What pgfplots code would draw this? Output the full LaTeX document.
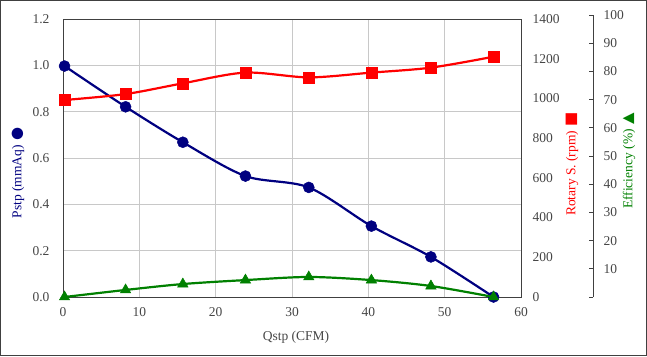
\documentclass[border=0pt]{standalone}
\usepackage{fontspec}
\setmainfont{Liberation Serif}
\newfontfamily\dejavu{DejaVu Sans}
\usepackage{pgfplots}
\pgfplotsset{compat=1.18}
\definecolor{navyc}{RGB}{0,0,128}
\definecolor{redc}{RGB}{255,0,0}
\definecolor{greenc}{RGB}{0,128,0}
\definecolor{axc}{RGB}{64,64,64}
\definecolor{tickc}{RGB}{70,70,70}
\definecolor{gridc}{RGB}{200,200,200}
\newcommand{\fs}{\fontsize{13.5}{15}\selectfont}
\begin{document}
\begin{tikzpicture}[x=1pt,y=1pt]
\useasboundingbox (0,0) rectangle (647,356);
\draw[line width=1pt, color=axc] (0.5,0.5) rectangle (646.5,355.5);
\pgfplotsset{
  base/.style={
    at={(63pt,59pt)}, anchor=south west, scale only axis,
    width=458pt, height=278pt,
    xmin=0, xmax=60,
    font=\fs,
    /pgf/number format/assume math mode=true,
    /pgf/number format/1000 sep={},
    tick label style={color=tickc, font=\fs},
    major tick length=0pt,
    axis line style={color=axc, line width=0.8pt},
  }
}
% Pstp (left axis)
\begin{axis}[base,
  ymin=0, ymax=1.2,
  ytick={0,0.2,...,1.2},
  yticklabel style={/pgf/number format/fixed, /pgf/number format/fixed zerofill, /pgf/number format/precision=1, xshift=-10pt},
  xtick={0,10,...,60},
  xticklabel style={yshift=-7pt},
  xtick pos=bottom, ytick pos=left,
  grid=major,
  major grid style={color=gridc, line width=0.8pt},
]
\addplot[navyc, line width=2.2pt, smooth, mark=*, mark size=5.5pt, mark options={fill=navyc, draw=navyc, line width=0.5pt}]
  coordinates {(0.2,0.997) (8.2,0.821) (15.7,0.668) (23.9,0.522) (32.2,0.473) (40.4,0.306) (48.2,0.173) (56.4,0.0)};
\end{axis}
% Rotary speed (right axis)
\begin{axis}[base,
  ymin=0, ymax=1400,
  ytick={0,200,...,1400},
  axis y line*=right,
  hide x axis,
  yticklabel style={xshift=8pt},
]
\addplot[redc, line width=2.2pt, smooth, mark=square*, mark size=5.5pt, mark options={fill=redc, draw=redc, line width=0.5pt}]
  coordinates {(0.2,992) (8.2,1022) (15.7,1076) (23.9,1130) (32.2,1106) (40.4,1130) (48.2,1155) (56.4,1210)};
\end{axis}
% Efficiency (offset right axis)
\begin{axis}[base,
  height=282pt,
  ymin=0, ymax=100,
  ytick={0,10,...,100},
  yticklabels={,10,20,30,40,50,60,70,80,90,100},
  axis y line*=right,
  hide x axis,
  tick align=inside,
  major tick length=4pt,
  y axis line style={xshift=72pt, color=axc, line width=0.8pt},
  ytick style={xshift=72pt, color=axc, line width=0.8pt},
  yticklabel style={xshift=79pt},
  clip=false,
]
\addplot[greenc, line width=2.2pt, smooth, mark=triangle*, mark size=6pt, mark options={fill=greenc, draw=greenc, line width=0.5pt}]
  coordinates {(0.2,0) (8.2,2.5) (15.7,4.6) (23.9,6.0) (32.2,7.1) (40.4,6.0) (48.2,3.9) (56.4,0)};
\end{axis}
% axis titles
\node[font=\fs, text=tickc] at (296,19) {Qstp (CFM)};
\node[font=\fs, text=navyc, rotate=90] at (18,183) {Pstp (mmAq)\,\,{\dejavu\fontsize{15}{15}\selectfont ●}};
\node[font=\fs, text=redc, rotate=90] at (572,192) {Rotary S. (rpm)\,\,{\dejavu\fontsize{15}{15}\selectfont ■}};
\node[font=\fs, text=greenc, rotate=90] at (629,195) {Efficiency (\%)\,\,{\dejavu\fontsize{15}{15}\selectfont ▲}};
\end{tikzpicture}
\end{document}
